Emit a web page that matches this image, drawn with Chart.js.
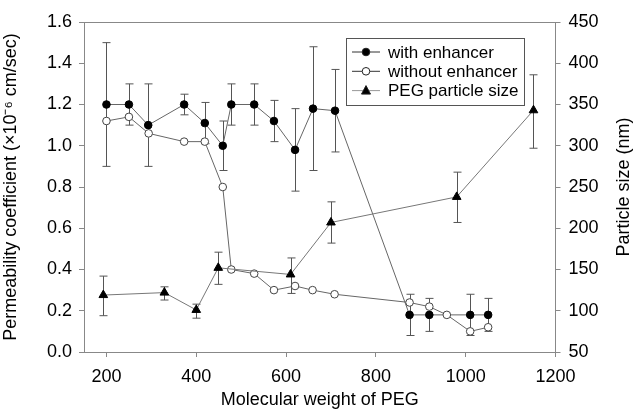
<!DOCTYPE html>
<html>
<head>
<meta charset="utf-8">
<script src="https://cdn.jsdelivr.net/npm/chart.js@4/dist/chart.umd.min.js"></script>
<style>
  body { margin: 0; background: #fff; }
  #wrap { width: 634px; height: 411px; }
</style>
</head>
<body>
<div id="wrap"><canvas id="peg" width="634" height="411"></canvas></div>
<script>
// PEG molecular weight vs permeability / particle size
const withX = [200, 250, 293, 373, 419, 459, 478, 529, 573, 620, 660, 709, 875, 919, 1010, 1050];
const withY = [1.20, 1.20, 1.10, 1.20, 1.11, 1.00, 1.20, 1.20, 1.12, 0.98, 1.18, 1.17, 0.18, 0.18, 0.18, 0.18];
const withHi = [1.50, 1.30, 1.30, 1.25, 1.21, 1.12, 1.30, 1.30, 1.22, 1.18, 1.48, 1.37, 0.28, 0.26, 0.28, 0.26];
const withLo = [0.90, 1.10, 0.90, 1.15, 1.01, 0.88, 1.10, 1.10, 1.02, 0.78, 0.88, 0.97, 0.08, 0.10, 0.08, 0.10];

const withoutX = [200, 250, 294, 373, 419, 459, 478, 529, 573, 620, 659, 708, 875, 919, 958, 1010, 1050];
const withoutY = [1.12, 1.14, 1.06, 1.02, 1.02, 0.80, 0.40, 0.38, 0.30, 0.32, 0.30, 0.28, 0.24, 0.22, 0.18, 0.10, 0.12];

const pegX = [193, 329, 400, 449, 610, 700, 980, 1151];
const pegY = [119, 122, 101, 152, 144, 207, 238, 343];
const pegHi = [142, 129, 108, 171, 164, 232, 268, 386];
const pegLo = [94, 113, 91, 132, 121, 182, 207, 297];

const xTicks = [200, 400, 600, 800, 1000, 1200];
const labels = ['with enhancer', 'without enhancer', 'PEG particle size'];

const FONT = 'Liberation Sans, Arial, Helvetica, sans-serif';
const AXIS = '#888';

function pts(xs, ys, lo, hi) {
  return xs.map((x, i) => ({ x: x, y: ys[i], lo: lo ? lo[i] : null, hi: hi ? hi[i] : null }));
}

// vertical error bars with caps, under the markers
const errorBars = {
  id: 'errorBars',
  beforeDatasetsDraw(chart) {
    const ctx = chart.ctx;
    ctx.save();
    ctx.strokeStyle = '#555';
    ctx.lineWidth = 1;
    chart.data.datasets.forEach(ds => {
      const ys = chart.scales[ds.yAxisID];
      ds.data.forEach(p => {
        if (p.lo == null) return;
        const x = Math.round(chart.scales.x.getPixelForValue(p.x)) + 0.5;
        const y1 = ys.getPixelForValue(p.hi);
        const y2 = ys.getPixelForValue(p.lo);
        ctx.beginPath();
        ctx.moveTo(x, y1); ctx.lineTo(x, y2);
        ctx.moveTo(x - 4, y1); ctx.lineTo(x + 4, y1);
        ctx.moveTo(x - 4, y2); ctx.lineTo(x + 4, y2);
        ctx.stroke();
      });
    });
    ctx.restore();
  }
};

function marker(ctx, style, fill, x, y) {
  ctx.beginPath();
  if (style === 'triangle') {
    ctx.moveTo(x, y - 5); ctx.lineTo(x + 4.5, y + 3.5); ctx.lineTo(x - 4.5, y + 3.5); ctx.closePath();
  } else {
    ctx.arc(x, y, 3.8, 0, Math.PI * 2);
  }
  ctx.fillStyle = fill;
  ctx.fill();
  ctx.strokeStyle = '#222';
  ctx.stroke();
}

// frame top, right title and the boxed legend
const extras = {
  id: 'extras',
  afterDraw(chart) {
    const ctx = chart.ctx;
    const a = chart.chartArea;
    ctx.save();
    ctx.strokeStyle = AXIS;
    ctx.lineWidth = 1;
    ctx.beginPath();
    ctx.moveTo(a.left, a.top + 0.5); ctx.lineTo(a.right, a.top + 0.5);
    ctx.stroke();

    ctx.fillStyle = '#000';
    ctx.font = '18px ' + FONT;
    ctx.textAlign = 'center';
    ctx.textBaseline = 'middle';
    ctx.translate(624, (a.top + a.bottom) / 2);
    ctx.rotate(-Math.PI / 2);
    ctx.fillText('Particle size (nm)', 0, 0);
    ctx.restore();

    ctx.save();
    ctx.lineWidth = 1;
    ctx.strokeStyle = '#555';
    ctx.strokeRect(346.5, 38.5, 178, 67);
    ctx.font = '17px ' + FONT;
    ctx.textBaseline = 'middle';
    const styles = [['circle', '#000', '#333'], ['circle', '#fff', '#333'], ['triangle', '#000', '#999']];
    labels.forEach((t, i) => {
      const y = 52 + i * 19.3;
      ctx.strokeStyle = styles[i][2];
      ctx.beginPath();
      ctx.moveTo(352, y); ctx.lineTo(380, y);
      ctx.stroke();
      marker(ctx, styles[i][0], styles[i][1], 366, y);
      ctx.fillStyle = '#000';
      ctx.fillText(t, 388, y + 1);
    });
    ctx.restore();
  }
};

const tickFont = { family: FONT, size: 18 };

new Chart(document.getElementById('peg'), {
  type: 'scatter',
  data: {
    datasets: [
      {
        label: labels[2],
        data: pts(pegX, pegY, pegLo, pegHi),
        yAxisID: 'y2',
        showLine: true,
        borderColor: '#777',
        borderWidth: 1,
        pointStyle: 'triangle',
        pointRadius: 5,
        pointBackgroundColor: '#000',
        pointBorderColor: '#000',
        pointBorderWidth: 1
      },
      {
        label: labels[1],
        data: pts(withoutX, withoutY),
        yAxisID: 'y',
        showLine: true,
        borderColor: '#666',
        borderWidth: 1,
        pointStyle: 'circle',
        pointRadius: 3.8,
        pointBackgroundColor: '#fff',
        pointBorderColor: '#444',
        pointBorderWidth: 1
      },
      {
        label: labels[0],
        data: pts(withX, withY, withLo, withHi),
        yAxisID: 'y',
        showLine: true,
        borderColor: '#666',
        borderWidth: 1,
        pointStyle: 'circle',
        pointRadius: 3.8,
        pointBackgroundColor: '#000',
        pointBorderColor: '#000',
        pointBorderWidth: 1
      }
    ]
  },
  options: {
    responsive: false,
    animation: false,
    layout: { padding: { top: 22 } },
    plugins: { legend: { display: false }, tooltip: { enabled: false } },
    scales: {
      x: {
        type: 'linear',
        min: 150,
        max: 1200,
        afterBuildTicks: s => { s.ticks = xTicks.map(v => ({ value: v })); },
        afterFit: s => { s.height = 59; },
        grid: { drawOnChartArea: false, color: AXIS, tickLength: 5 },
        border: { color: AXIS },
        ticks: { font: tickFont, color: '#000', padding: 9, maxRotation: 0, callback: v => String(v) },
        title: { display: true, text: 'Molecular weight of PEG', font: tickFont, color: '#000', padding: 0 }
      },
      y: {
        position: 'left',
        min: 0,
        max: 1.6,
        afterFit: s => { s.width = 84; },
        grid: { drawOnChartArea: false, color: AXIS, tickLength: 5 },
        border: { color: AXIS },
        ticks: { stepSize: 0.2, font: tickFont, color: '#000', padding: 7, callback: v => v.toFixed(1) },
        title: { display: true, text: 'Permeability coefficient (\u00d710\u207b\u2076 cm/sec)', font: tickFont, color: '#000', padding: { top: 0, bottom: 9 } }
      },
      y2: {
        position: 'right',
        min: 50,
        max: 450,
        afterFit: s => { s.width = 78.5; },
        grid: { drawOnChartArea: false, color: AXIS, tickLength: 5 },
        border: { color: AXIS },
        ticks: { stepSize: 50, font: tickFont, color: '#000', padding: 8 }
      }
    }
  },
  plugins: [errorBars, extras]
});
</script>
</body>
</html>
